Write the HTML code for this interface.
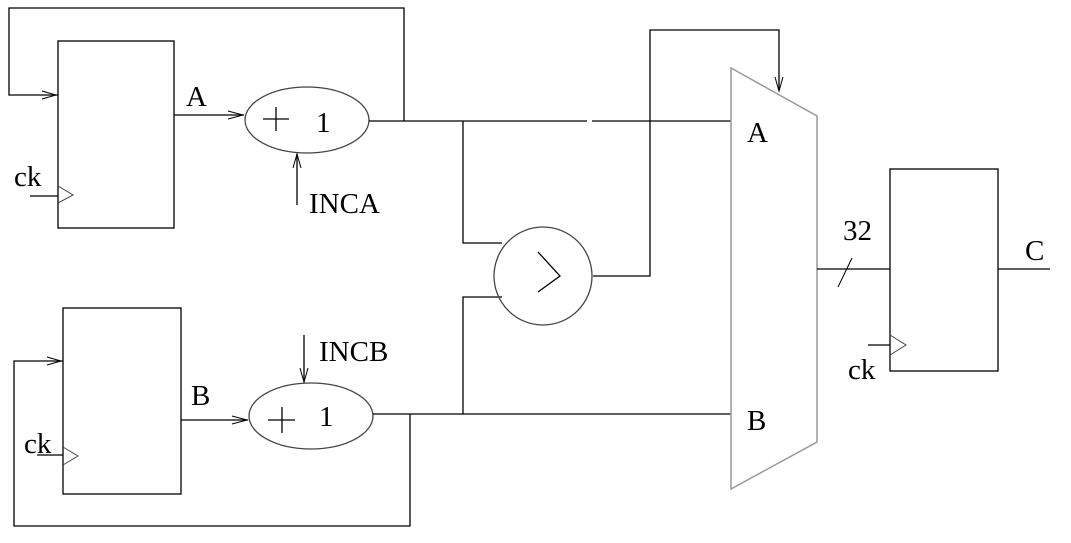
<!DOCTYPE html>
<html><head><style>body{margin:0;background:#fff}svg{display:block}text{font-family:"Liberation Serif",serif;fill:#000}</style></head>
<body>
<svg width="1071" height="543" viewBox="0 0 1071 543" xmlns="http://www.w3.org/2000/svg">
<g fill="none" stroke="#000" stroke-width="1.3">
<rect x="58" y="41" width="116" height="187"/>
<polyline points="404,121 404,8 9,8 9,95 58,95"/>
<polyline points="42,91 56,95 42,99" stroke-width="1"/>
<line x1="174" y1="115" x2="244" y2="115"/>
<polyline points="228,111 243,115 228,119" stroke-width="1"/>
<ellipse cx="307" cy="120" rx="62" ry="33" stroke="#444"/>
<line x1="297" y1="205" x2="297" y2="154"/>
<polyline points="293,168 297,154 301,168" stroke-width="1"/>
<line x1="30" y1="196" x2="58" y2="196"/>
<polyline points="58,186 73,195 58,203" stroke="#444" stroke-width="1"/>
<line x1="263" y1="119" x2="289" y2="119"/><line x1="276" y1="107" x2="276" y2="131"/>
<rect x="63" y="308" width="118" height="186"/>
<polyline points="410,414 410,526 14,526 14,361 63,361"/>
<polyline points="47,357 61,361 47,365" stroke-width="1"/>
<line x1="181" y1="420" x2="248" y2="420"/>
<polyline points="232,416 247,420 232,424" stroke-width="1"/>
<ellipse cx="311" cy="416" rx="62" ry="33" stroke="#444"/>
<line x1="304" y1="335" x2="304" y2="382"/>
<polyline points="300,368 304,382 308,368" stroke-width="1"/>
<line x1="37" y1="455" x2="63" y2="455"/>
<polyline points="63,447 78,456 63,465" stroke="#444" stroke-width="1"/>
<line x1="268" y1="420" x2="295" y2="420"/><line x1="282" y1="407" x2="282" y2="433"/>
<line x1="369" y1="121" x2="587" y2="121"/>
<line x1="592" y1="121" x2="731" y2="121"/>
<line x1="373" y1="414" x2="731" y2="414"/>
<polyline points="463,121 463,243 502,243"/>
<polyline points="463,414 463,297 502,297"/>
<circle cx="543" cy="276" r="49" stroke="#444"/>
<polyline points="538,252 560,276 538,292"/>
<polyline points="593,276 650,276 650,30 779,30 779,90"/>
<polyline points="775,77 779,91 783,77" stroke-width="1"/>
<polygon points="731,68 817,116 817,442 731,489" stroke="#999" stroke-width="1.5"/>
<line x1="817" y1="269" x2="890" y2="269"/>
<line x1="838" y1="287" x2="852" y2="258" stroke-width="1"/>
<rect x="890" y="169" width="108" height="202"/>
<line x1="998" y1="269" x2="1050" y2="269"/>
<line x1="868" y1="345" x2="890" y2="345"/>
<polyline points="890,335 906,345 890,355" stroke="#444" stroke-width="1"/>
</g>
<g font-size="29">
<text x="186" y="106">A</text>
<text x="316" y="132">1</text>
<text x="309" y="213">INCA</text>
<text x="14" y="186">ck</text>
<text x="191" y="405">B</text>
<text x="319" y="426">1</text>
<text x="319" y="361">INCB</text>
<text x="24" y="453">ck</text>
<text x="747" y="142">A</text>
<text x="747" y="430">B</text>
<text x="843" y="240">32</text>
<text x="1025" y="260">C</text>
<text x="848" y="379">ck</text>
</g>
</svg>
</body></html>
